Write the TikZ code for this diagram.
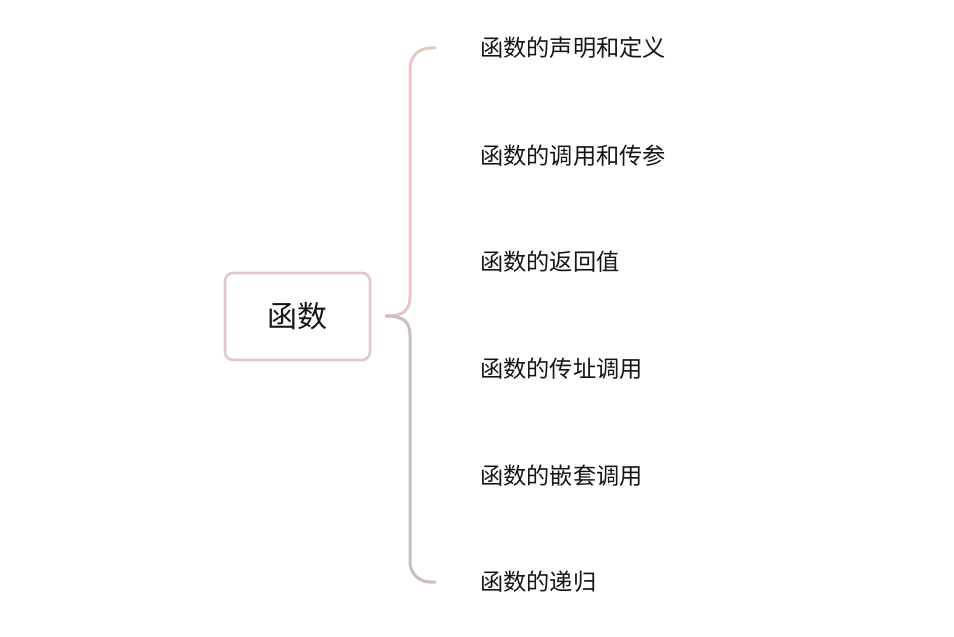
\documentclass[tikz,border=0pt]{standalone}
\usepackage{fontspec}
\setmainfont{Noto Sans CJK SC}
\definecolor{boxc}{HTML}{E0C6CE}
\definecolor{bracetop}{HTML}{EAC6C2}
\definecolor{bracebot}{HTML}{CBBCCB}
\definecolor{txt}{HTML}{151515}
\begin{document}
\begin{tikzpicture}[x=1bp,y=-1bp,
  rootbox/.style={draw=boxc,line width=2.6bp,rounded corners=8bp,minimum width=145bp,minimum height=87bp,inner sep=0pt,text=txt,font=\fontsize{30bp}{33bp}\selectfont},
  leaf/.style={anchor=west,inner sep=0pt,text=txt,font=\fontsize{23.2bp}{26bp}\selectfont},
  br/.style={line width=3bp,line cap=round}]
\useasboundingbox (0,0) rectangle (954,637);
\node[rootbox] (root) at (297.5,316.5) {函数};
\node[leaf] (l1) at (480,48) {函数的声明和定义};
\node[leaf] (l2) at (480,156) {函数的调用和传参};
\node[leaf] (l3) at (480,262) {函数的返回值};
\node[leaf] (l4) at (480,369) {函数的传址调用};
\node[leaf] (l5) at (480,476) {函数的嵌套调用};
\node[leaf] (l6) at (480,582) {函数的递归};
\coordinate (bs) at (386,316);
\coordinate (bt) at (435,48);
\coordinate (bb) at (435,582);
\draw[br,bracetop] (bs) .. controls (404,316) and (410,310) .. (410,296) [rounded corners=20bp] -- (410,48) -- (bt);
\draw[br,bracebot] (bs) .. controls (404,316) and (410,322) .. (410,336) [rounded corners=20bp] -- (410,582) -- (bb);
\end{tikzpicture}
\end{document}
